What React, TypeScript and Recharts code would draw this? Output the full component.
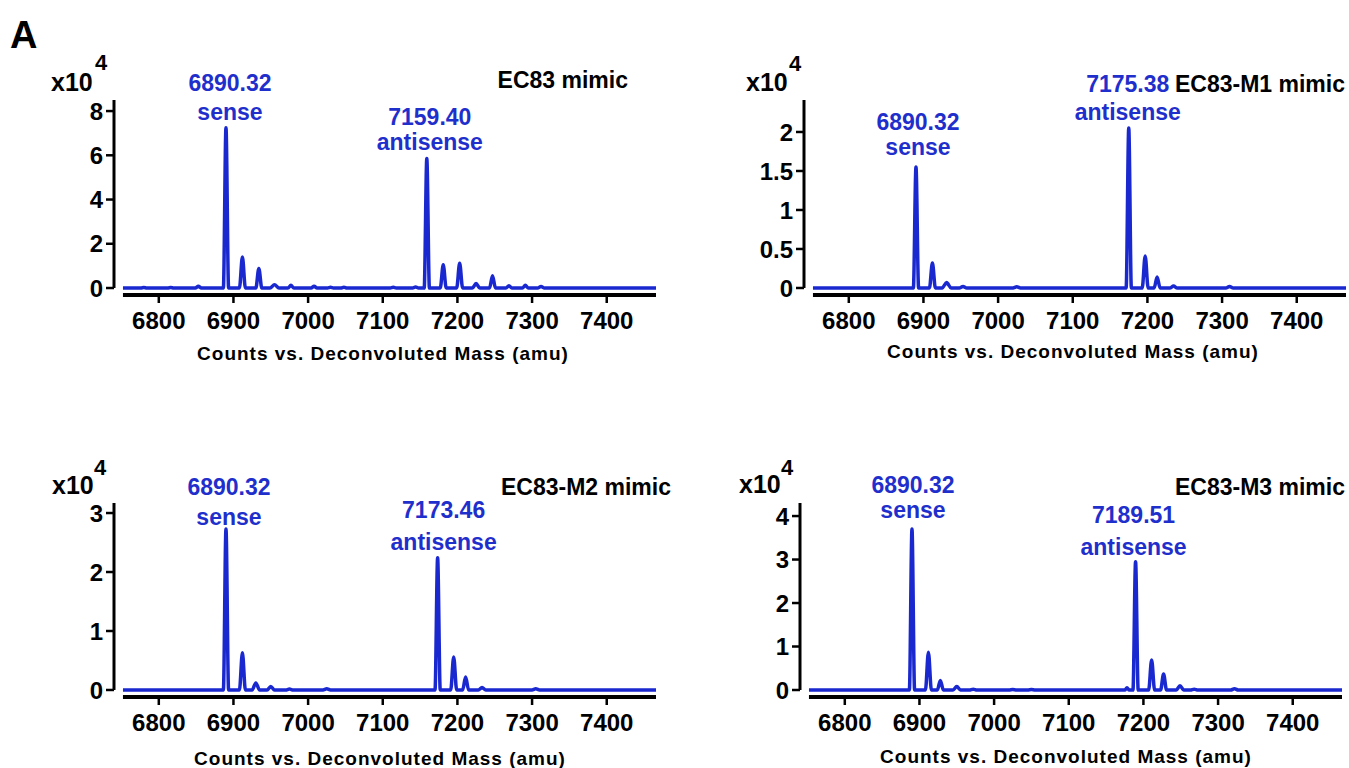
import React from 'react';
import { LineChart, Line, XAxis, YAxis, ReferenceLine, ReferenceDot } from 'recharts';

const FONT = "'Liberation Sans', Arial, Helvetica, sans-serif";
const BLUE = '#1a28cf';
const TAG_BLUE = '#1f2fcc';

const X_TICKS = [6800, 6900, 7000, 7100, 7200, 7300, 7400];
const X_DOMAIN = [6740, 7466];
const TAG_NAMES = ['sense', 'antisense'];

// EC83 mimic (counts x10^4)
const MASS_EC83 = [
  6752, 6776, 6780, 6784, 6812, 6816, 6820, 6849, 6853, 6857,
  6886.5, 6890, 6893.5, 6908, 6912, 6916, 6930, 6934, 6938,
  6949, 6955, 6961, 6973, 6977, 6981, 7004, 7008, 7012,
  7026, 7030, 7034, 7044, 7048, 7052, 7110, 7114, 7118, 7140, 7144, 7148,
  7155.5, 7159, 7162.5, 7177, 7181, 7185, 7199, 7203, 7207,
  7220, 7225, 7230, 7243, 7247, 7251, 7265, 7269, 7273,
  7287, 7291, 7295, 7308, 7312, 7316, 7466,
];
const COUNTS_EC83 = [
  0, 0, 0.02, 0, 0, 0.02, 0, 0, 0.08, 0,
  0, 7.25, 0, 0, 1.4, 0, 0, 0.88, 0,
  0, 0.15, 0, 0, 0.12, 0, 0, 0.08, 0,
  0, 0.03, 0, 0, 0.04, 0, 0, 0.03, 0, 0, 0.05, 0,
  0, 5.85, 0, 0, 1.05, 0, 0, 1.12, 0,
  0, 0.2, 0, 0, 0.55, 0, 0, 0.1, 0,
  0, 0.12, 0, 0, 0.07, 0, 0,
];
const Y_TICKS_EC83 = [0, 2, 4, 6, 8];
const TAG_APEX_EC83 = [6890, 7159];
const TAG_MASS_EC83 = ['6890.32', '7159.40'];

// EC83-M1 mimic
const MASS_M1 = [
  6752, 6886.5, 6890, 6893.5, 6908, 6912, 6916, 6925, 6931, 6937,
  6948, 6953, 6958, 7020, 7025, 7030,
  7171.5, 7175, 7178.5, 7193, 7197, 7201, 7209, 7213, 7217,
  7230, 7235, 7240, 7305, 7310, 7315, 7466,
];
const COUNTS_M1 = [
  0, 0, 1.55, 0, 0, 0.32, 0, 0, 0.07, 0,
  0, 0.02, 0, 0, 0.015, 0,
  0, 2.05, 0, 0, 0.41, 0, 0, 0.14, 0,
  0, 0.025, 0, 0, 0.02, 0, 0,
];
const Y_TICKS_M1 = [0, 0.5, 1, 1.5, 2];
const TAG_APEX_M1 = [6890, 7175];
const TAG_MASS_M1 = ['6890.32', '7175.38'];

// EC83-M2 mimic
const MASS_M2 = [
  6752, 6886.5, 6890, 6893.5, 6908, 6912, 6916, 6925, 6930, 6935,
  6945, 6950, 6955, 6970, 6975, 6980, 7020, 7025, 7030,
  7170, 7173.5, 7177, 7191, 7195, 7199, 7207, 7211, 7215,
  7228, 7233, 7238, 7300, 7305, 7310, 7466,
];
const COUNTS_M2 = [
  0, 0, 2.73, 0, 0, 0.63, 0, 0, 0.12, 0,
  0, 0.06, 0, 0, 0.015, 0, 0, 0.02, 0,
  0, 2.24, 0, 0, 0.56, 0, 0, 0.22, 0,
  0, 0.04, 0, 0, 0.02, 0, 0,
];
const Y_TICKS_M2 = [0, 1, 2, 3];
const TAG_APEX_M2 = [6890, 7173.5];
const TAG_MASS_M2 = ['6890.32', '7173.46'];

// EC83-M3 mimic
const MASS_M3 = [
  6752, 6886.5, 6890, 6893.5, 6908, 6912, 6916, 6924, 6928, 6932,
  6945, 6950, 6955, 6967, 6972, 6977, 7020, 7025, 7030, 7045, 7050, 7055,
  7175, 7178, 7181, 7186, 7189.5, 7193, 7207, 7211, 7215, 7223, 7227, 7231,
  7244, 7249, 7254, 7263, 7268, 7273, 7317, 7322, 7327, 7466,
];
const COUNTS_M3 = [
  0, 0, 3.7, 0, 0, 0.87, 0, 0, 0.22, 0,
  0, 0.08, 0, 0, 0.02, 0, 0, 0.01, 0, 0, 0.01, 0,
  0, 0.05, 0, 0, 2.95, 0, 0, 0.69, 0, 0, 0.37, 0,
  0, 0.1, 0, 0, 0.02, 0, 0, 0.03, 0, 0,
];
const Y_TICKS_M3 = [0, 1, 2, 3, 4];
const TAG_APEX_M3 = [6890, 7189.5];
const TAG_MASS_M3 = ['6890.32', '7189.51'];

const PANELS = [
  {
    title: 'EC83 mimic', mass: MASS_EC83, counts: COUNTS_EC83, yTicks: Y_TICKS_EC83,
    tagApex: TAG_APEX_EC83, tagMass: TAG_MASS_EC83,
    left: 0, top: 0, width: 680, height: 370,
    margin: { top: 100, right: 24, bottom: 0, left: 54 }, xAxisH: 75, yDomain: [-0.316, 8.5],
    tagLayout: [{ dx: 4, gap: 8, lead: 29 }, { dx: 3, gap: 9, lead: 25 }],
    x10: [51, 91], sup: [95, 70], titlePos: [628, 88], axisTitle: [383, 360],
  },
  {
    title: 'EC83-M1 mimic', mass: MASS_M1, counts: COUNTS_M1, yTicks: Y_TICKS_M1,
    tagApex: TAG_APEX_M1, tagMass: TAG_MASS_M1,
    left: 680, top: 0, width: 669, height: 370,
    margin: { top: 100, right: 3, bottom: 0, left: 64 }, xAxisH: 75, yDomain: [-0.09, 2.41],
    tagLayout: [{ dx: 2, gap: 12, lead: 25 }, { dx: -1, gap: 8, lead: 28 }],
    x10: [746, 91], sup: [789, 71], titlePos: [1345, 92], axisTitle: [1073, 358],
  },
  {
    title: 'EC83-M2 mimic', mass: MASS_M2, counts: COUNTS_M2, yTicks: Y_TICKS_M2,
    tagApex: TAG_APEX_M2, tagMass: TAG_MASS_M2,
    left: 0, top: 400, width: 680, height: 368,
    margin: { top: 103, right: 24, bottom: 0, left: 54 }, xAxisH: 71, yDomain: [-0.119, 3.17],
    tagLayout: [{ dx: 3, gap: 4, lead: 30 }, { dx: 6, gap: 8, lead: 32 }],
    x10: [52, 494], sup: [94, 475], titlePos: [671, 495], axisTitle: [380, 765],
  },
  {
    title: 'EC83-M3 mimic', mass: MASS_M3, counts: COUNTS_M3, yTicks: Y_TICKS_M3,
    tagApex: TAG_APEX_M3, tagMass: TAG_MASS_M3,
    left: 680, top: 400, width: 669, height: 368,
    margin: { top: 103, right: 7, bottom: 0, left: 60 }, xAxisH: 71, yDomain: [-0.161, 4.3],
    tagLayout: [{ dx: 1, gap: 11, lead: 25 }, { dx: -2, gap: 7, lead: 32 }],
    x10: [739, 493], sup: [781, 475], titlePos: [1345, 495], axisTitle: [1066, 763],
  },
];

const tickStyle = { fill: '#000', fontSize: 24, fontWeight: 700, fontFamily: FONT };

const makeTag = (mass: string, name: string, lay: { dx: number; gap: number; lead: number }) =>
  (props: any) => {
    const vb = props.viewBox || {};
    const cx = vb.x + (vb.width || 0) / 2 + lay.dx;
    const cy = vb.y + (vb.height || 0) / 2;
    return (
      <g>
        <text x={cx} y={cy - lay.gap - lay.lead} textAnchor="middle" fill={TAG_BLUE}
          fontSize={23} fontWeight={700} fontFamily={FONT}>{mass}</text>
        <text x={cx} y={cy - lay.gap} textAnchor="middle" fill={TAG_BLUE}
          fontSize={23} fontWeight={700} fontFamily={FONT}>{name}</text>
      </g>
    );
  };

function Panel({ p }: { p: any }) {
  const data = p.mass.map((m: number, i: number) => ({ mass: m, counts: p.counts[i] }));
  return (
    <div style={{ position: 'absolute', left: p.left, top: p.top }}>
      <LineChart width={p.width} height={p.height} data={data} margin={p.margin}>
        <XAxis
          dataKey="mass" type="number" domain={X_DOMAIN} ticks={X_TICKS} interval={0}
          allowDataOverflow axisLine={false} height={p.xAxisH}
          tickLine={{ stroke: '#000', strokeWidth: 2.5 }} tickSize={8} tickMargin={9} tick={tickStyle}
        />
        <YAxis
          type="number" domain={p.yDomain} ticks={p.yTicks} interval={0} allowDataOverflow
          axisLine={false} width={60}
          tickLine={{ stroke: '#000', strokeWidth: 2.5 }} tickSize={8} tickMargin={3} tick={tickStyle}
        />
        <ReferenceLine
          segment={[{ x: X_DOMAIN[0], y: 0 }, { x: X_DOMAIN[0], y: p.yDomain[1] }]}
          stroke="#000" strokeWidth={3} ifOverflow="visible"
        />
        <ReferenceLine
          segment={[{ x: p.mass[0], y: p.yDomain[0] }, { x: X_DOMAIN[1], y: p.yDomain[0] }]}
          stroke="#000" strokeWidth={4} ifOverflow="visible"
        />
        <Line
          dataKey="counts" type="monotone" stroke={BLUE} strokeWidth={3.5} dot={false}
          isAnimationActive={false} strokeLinejoin="round"
        />
        {p.tagApex.map((apex: number, i: number) => (
          <ReferenceDot
            key={apex}
            x={apex}
            y={p.counts[p.mass.indexOf(apex)]}
            r={1}
            fill="none"
            stroke="none"
            ifOverflow="visible"
            label={makeTag(p.tagMass[i], TAG_NAMES[i], p.tagLayout[i])}
          />
        ))}
      </LineChart>
    </div>
  );
}

export default function App() {
  return (
    <div style={{ position: 'absolute', left: 0, top: 0, width: 1349, height: 768, overflow: 'hidden', background: '#fff' }}>
      {PANELS.map((p) => <Panel key={p.title} p={p} />)}
      <svg width={1349} height={768} style={{ position: 'absolute', left: 0, top: 0, pointerEvents: 'none' }}>
        <text x={10} y={48} fontSize={38} fontWeight={900} fontFamily={FONT} fill="#000">A</text>
        {PANELS.map((p) => (
          <g key={p.title} fontFamily={FONT} fontWeight={700} fill="#000">
            <text x={p.x10[0]} y={p.x10[1]} fontSize={25}>x10</text>
            <text x={p.sup[0]} y={p.sup[1]} fontSize={22}>4</text>
            <text x={p.titlePos[0]} y={p.titlePos[1]} fontSize={23} textAnchor="end">{p.title}</text>
            <text x={p.axisTitle[0]} y={p.axisTitle[1]} fontSize={19} letterSpacing={1} textAnchor="middle">
              Counts vs. Deconvoluted Mass (amu)
            </text>
          </g>
        ))}
      </svg>
    </div>
  );
}
